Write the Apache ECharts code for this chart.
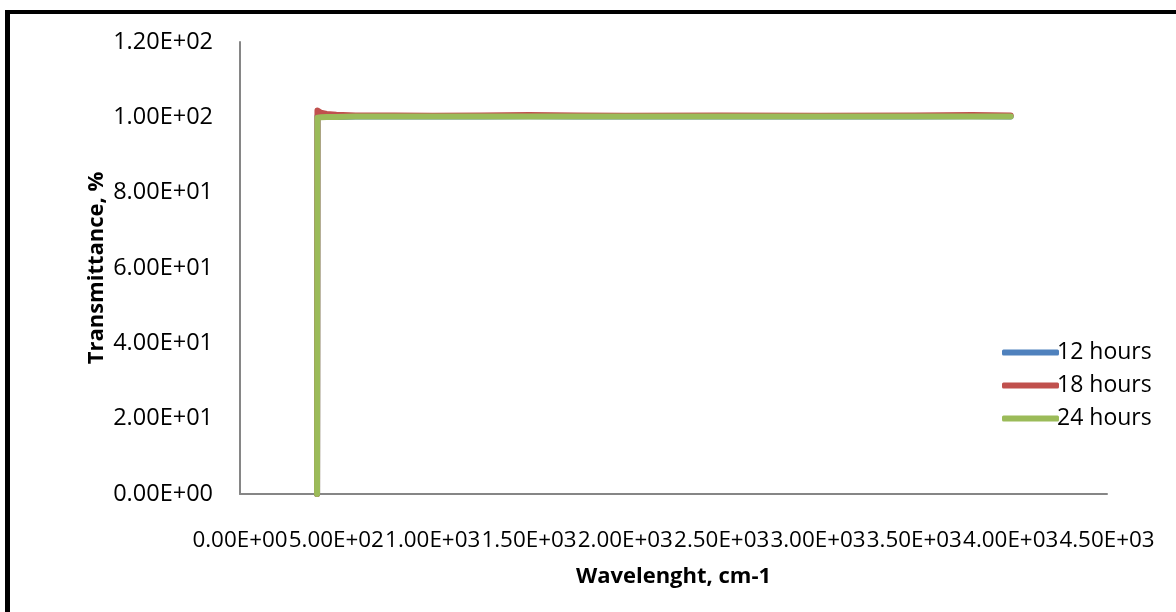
<!DOCTYPE html>
<html>
<head>
<meta charset="utf-8">
<script src="https://cdn.jsdelivr.net/npm/echarts@6/dist/echarts.min.js"></script>
<style>
  html, body { margin: 0; padding: 0; background: #fff; }
  #chart { width: 1176px; height: 612px; position: relative; }
  #frame { position: absolute; left: 5px; top: 10px; width: 1200px; height: 700px;
           border-left: 5px solid #000; border-top: 4px solid #000; pointer-events: none; }
</style>
</head>
<body>
<div id="chart"></div>
<div id="frame"></div>
<script>
// Data
const wavenumbers = [400, 402, 420, 450, 500, 600, 800, 1000, 1250, 1500, 1750, 2000, 2500, 3000, 3500, 3800, 4000];
const hours12 = [0, 100.3, 100.2, 100.2, 100.1, 100.2, 100.2, 100.2, 100.2, 100.3, 100.2, 100.2, 100.2, 100.2, 100.2, 100.3, 100.2];
const hours18 = [0, 101.8, 101.2, 100.9, 100.7, 100.5, 100.5, 100.4, 100.5, 100.6, 100.5, 100.4, 100.5, 100.4, 100.5, 100.6, 100.5];
const hours24 = [0, 99.9, 100.0, 100.1, 100.1, 100.2, 100.2, 100.2, 100.2, 100.2, 100.2, 100.2, 100.2, 100.2, 100.2, 100.2, 100.2];
const seriesNames = ['12 hours', '18 hours', '24 hours'];

function sci(v) {
  if (v === 0) return '0.00E+00';
  const e = Math.floor(Math.log10(Math.abs(v)));
  const m = v / Math.pow(10, e);
  const es = (e < 0 ? '-' : '+') + String(Math.abs(e)).padStart(2, '0');
  return m.toFixed(2) + 'E' + es;
}
function pairs(xs, ys) { return xs.map((x, i) => [x, ys[i]]); }

const FONT = 'Open Sans';
const chart = echarts.init(document.getElementById('chart'), null, { renderer: 'canvas' });
const colors = ['#4F81BD', '#C0504D', '#9BBB59'];
const datasets = [hours12, hours18, hours24];

chart.setOption({
  animation: false,
  backgroundColor: '#ffffff',
  grid: { left: 240, right: 69, top: 42, bottom: 118, containLabel: false },
  xAxis: {
    type: 'value', min: 0, max: 4500, interval: 500,
    name: 'Wavelenght, cm-1', nameLocation: 'middle', nameGap: 72, nameMoveOverlap: false,
    nameTextStyle: { fontFamily: FONT, fontSize: 22, fontWeight: 'bold', color: '#000' },
    axisLine: { show: true, lineStyle: { color: '#868686', width: 2 } },
    axisTick: { show: false },
    splitLine: { show: false },
    axisLabel: {
      fontFamily: FONT, fontSize: 22.4, color: '#000', margin: 36, hideOverlap: false,
      showMinLabel: true, showMaxLabel: true,
      formatter: v => sci(v)
    }
  },
  yAxis: {
    type: 'value', min: 0, max: 120, interval: 20,
    name: 'Transmittance, %', nameLocation: 'middle', nameGap: 132, nameRotate: 90, nameMoveOverlap: false,
    nameTextStyle: { fontFamily: FONT, fontSize: 22, fontWeight: 'bold', color: '#000' },
    axisLine: { show: true, lineStyle: { color: '#868686', width: 2 } },
    axisTick: { show: false },
    splitLine: { show: false },
    axisLabel: { fontFamily: FONT, fontSize: 23.5, color: '#000', margin: 27, formatter: v => sci(v) }
  },
  legend: {
    orient: 'vertical', left: 997, top: 336,
    itemWidth: 57, itemHeight: 6, itemGap: 10, icon: 'roundRect',
    textStyle: { fontFamily: FONT, fontSize: 23, color: '#000', lineHeight: 23, padding: [0, 0, 0, -7] },
    data: seriesNames
  },
  series: seriesNames.map((n, i) => ({
    name: n, type: 'line', showSymbol: false, symbol: 'none',
    data: pairs(wavenumbers, datasets[i]),
    lineStyle: { color: colors[i], width: 6, cap: 'round', join: 'round' },
    itemStyle: { color: colors[i] },
    z: 2 + i
  }))
});
</script>
</body>
</html>
